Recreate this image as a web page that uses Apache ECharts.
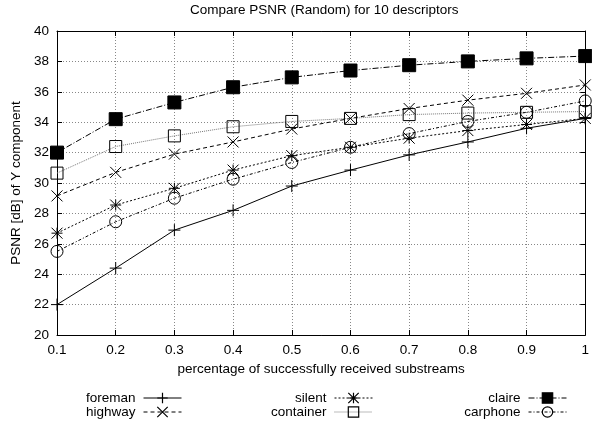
<!DOCTYPE html>
<html>
<head>
<meta charset="utf-8">
<script src="https://cdn.jsdelivr.net/npm/echarts@6/dist/echarts.min.js"></script>
<style>
html,body{margin:0;padding:0;background:#fff;}
#chart{width:592px;height:423px;}
</style>
</head>
<body>
<div id="chart"></div>
<script>
// ---- data ----
var xValues = [0.1, 0.2, 0.3, 0.4, 0.5, 0.6, 0.7, 0.8, 0.9, 1.0];
var foreman   = [22.0, 24.4, 26.9, 28.2, 29.8, 30.85, 31.85, 32.7, 33.6, 34.25];
var highway   = [29.15, 30.7, 31.9, 32.7, 33.55, 34.25, 34.9, 35.45, 35.9, 36.45];
var silent    = [26.7, 28.55, 29.65, 30.85, 31.8, 32.35, 32.95, 33.45, 33.85, 34.25];
var container = [30.65, 32.4, 33.1, 33.7, 34.05, 34.25, 34.5, 34.6, 34.65, 34.7];
var claire    = [32.0, 34.2, 35.3, 36.3, 36.95, 37.4, 37.75, 38.0, 38.2, 38.35];
var carphone  = [25.5, 27.45, 29.0, 30.25, 31.35, 32.35, 33.25, 34.05, 34.65, 35.4];
var seriesNames = ['foreman', 'highway', 'silent', 'container', 'claire', 'carphone'];
var yTicks = [20, 22, 24, 26, 28, 30, 32, 34, 36, 38, 40];
var xTickLabels = ['0.1','0.2','0.3','0.4','0.5','0.6','0.7','0.8','0.9','1'];

function pairs(ys) { return xValues.map(function (x, i) { return [x, ys[i]]; }); }

var PLUS = 'path://M0,5L10,5M5,0L5,10';
var CROSS = 'path://M0,0L10,10M10,0L0,10';
var STAR = 'path://M0,0L10,10M10,0L0,10M5,0L5,10M0,5L10,5';
var CLEAR = 'rgba(0,0,0,0)';

var FONT = 'Liberation Sans, Arial, Helvetica, sans-serif';
var FS = 13.5;

function mk(name, data, symbol, size, lineType, lineColor, fill) {
  return {
    name: name, type: 'line', data: pairs(data),
    symbol: symbol, symbolSize: size, xAxisIndex: 0, yAxisIndex: 0,
    showAllSymbol: true,
    lineStyle: { color: lineColor, width: 1, type: lineType },
    itemStyle: { color: fill, borderColor: '#000', borderWidth: 1 },
    emphasis: { disabled: true },
    animation: false
  };
}

var series = [
  mk('foreman', foreman, PLUS, 12, 'solid', '#000', CLEAR),
  mk('highway', highway, CROSS, 11, [4, 3], '#000', CLEAR),
  mk('silent', silent, STAR, 11, [2, 2], '#000', CLEAR),
  mk('container', container, 'rect', 12, [1, 1], '#777', CLEAR),
  mk('claire', claire, 'rect', 13, [6, 2, 1, 2], '#000', '#000'),
  mk('carphone', carphone, 'circle', 12, [3, 2, 1, 2], '#000', CLEAR)
];

function legendBlock(names, right) {
  return {
    data: names, orient: 'vertical', align: 'right',
    right: right, top: 391, padding: 0,
    itemWidth: 38, itemHeight: 13, itemGap: 0,
    lineStyle: { width: 1 },
    itemStyle: { borderWidth: 1.2, borderColor: '#000' },
    textStyle: { fontFamily: FONT, fontSize: FS, lineHeight: 13, color: '#000', padding: [0, 3, 0, 0] },
    selectedMode: false
  };
}

var chart = echarts.init(document.getElementById('chart'), null, { renderer: 'canvas' });
chart.setOption({
  backgroundColor: '#fff',
  animation: false,
  title: {
    text: 'Compare PSNR (Random) for 10 descriptors',
    left: 190, top: 3, padding: 0,
    textStyle: { fontFamily: FONT, fontSize: FS, fontWeight: 'normal', color: '#000' }
  },
  legend: [
    legendBlock(['foreman', 'highway'], 410),
    legendBlock(['silent', 'container'], 219),
    legendBlock(['claire', 'carphone'], 25)
  ],
  grid: { left: 57, right: 1, top: 31, bottom: 88, containLabel: false },
  xAxis: [{
    type: 'value', min: 0.1, max: 1.0, interval: 0.1,
    name: 'percentage of successfully received substreams',
    nameLocation: 'middle', nameGap: 27,
    nameTextStyle: { fontFamily: FONT, fontSize: FS, color: '#000' },
    axisLine: { show: true, onZero: false, lineStyle: { color: '#000', width: 1 } },
    axisTick: { show: true, inside: true, length: 5, lineStyle: { color: '#000' } },
    axisLabel: { fontFamily: FONT, fontSize: FS, color: '#000', margin: 8,
      formatter: function (v) { var i = Math.round(v * 10) - 1; return xTickLabels[i]; } },
    splitLine: { show: true, lineStyle: { color: '#888', type: [1, 2], width: 1 } }
  }, {
    type: 'value', position: 'top', min: 0.1, max: 1.0, interval: 0.1,
    axisLine: { show: true, onZero: false, lineStyle: { color: '#000', width: 1 } },
    axisTick: { show: true, inside: true, length: 5, lineStyle: { color: '#000' } },
    axisLabel: { show: false }, splitLine: { show: false }
  }],
  yAxis: [{
    type: 'value', min: yTicks[0], max: yTicks[yTicks.length - 1], interval: yTicks[1] - yTicks[0],
    name: 'PSNR [dB] of Y component',
    nameLocation: 'middle', nameGap: 33, nameRotate: 90,
    nameTextStyle: { fontFamily: FONT, fontSize: FS, color: '#000' },
    axisLine: { show: true, onZero: false, lineStyle: { color: '#000', width: 1 } },
    axisTick: { show: true, inside: true, length: 5, lineStyle: { color: '#000' } },
    axisLabel: { fontFamily: FONT, fontSize: FS, color: '#000', margin: 8 },
    splitLine: { show: true, lineStyle: { color: '#888', type: [1, 2], width: 1 } }
  }, {
    type: 'value', position: 'right', min: yTicks[0], max: yTicks[yTicks.length - 1], interval: yTicks[1] - yTicks[0],
    axisLine: { show: true, onZero: false, lineStyle: { color: '#000', width: 1 } },
    axisTick: { show: true, inside: true, length: 5, lineStyle: { color: '#000' } },
    axisLabel: { show: false }, splitLine: { show: false }
  }],
  series: series
});
</script>
</body>
</html>
